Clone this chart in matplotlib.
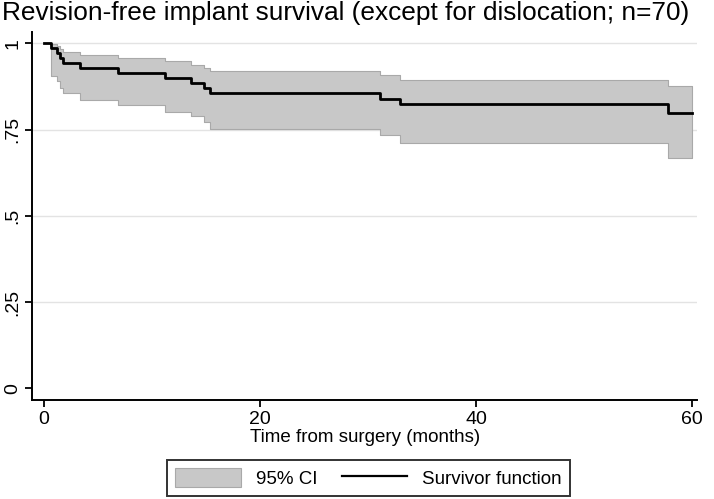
import matplotlib
matplotlib.use("Agg")
import matplotlib.pyplot as plt
from matplotlib.patches import Patch
from matplotlib.lines import Line2D

plt.rcParams['font.family'] = ['Liberation Sans', 'DejaVu Sans']

# Kaplan-Meier steps
times = [0, 0.7, 1.2, 1.5, 1.8, 3.3, 6.9, 11.2, 13.6, 14.8, 15.4, 31.1, 33.0, 57.8, 60.0]
surv = [1.0, 0.986, 0.971, 0.957, 0.943, 0.929, 0.914, 0.900, 0.886, 0.871, 0.857, 0.840, 0.825, 0.797, 0.797]
ci_upper = [1.0, 0.998, 0.992, 0.985, 0.975, 0.965, 0.957, 0.948, 0.938, 0.929, 0.920, 0.907, 0.893, 0.877, 0.877]
ci_lower = [1.0, 0.905, 0.890, 0.872, 0.855, 0.837, 0.820, 0.802, 0.788, 0.773, 0.752, 0.735, 0.712, 0.667, 0.667]

xticks = [0, 20, 40, 60]
yticks = [0, 0.25, 0.5, 0.75, 1]
ytick_labels = ["0", ".25", ".5", ".75", "1"]

fig = plt.figure(figsize=(7.14, 4.99), dpi=100)
ax = fig.add_axes([0.0452, 0.1984, 0.931, 0.7375])

for y in yticks[1:]:
    ax.axhline(y, color="#e3e3e3", lw=1, zorder=0)

ax.fill_between(times[1:], ci_lower[1:], ci_upper[1:], step="post",
                facecolor="#c8c8c8", edgecolor="#a9a9a9", lw=0.8, zorder=1)
ax.step(times, surv, where="post", color="black", lw=2.0, zorder=2)

ax.set_xlim(-1.08, 60.46)
ax.set_ylim(-0.034, 1.033)
ax.set_xticks(xticks)
ax.set_yticks(yticks)
ax.set_yticklabels(ytick_labels, rotation=90, va="center")
ax.tick_params(labelsize=14, length=5, width=1.3, color="black", pad=3)
for s in ["top", "right"]:
    ax.spines[s].set_visible(False)
for s in ["left", "bottom"]:
    ax.spines[s].set_linewidth(1.4)

ax.set_xlabel("Time from surgery (months)", fontsize=13.5, labelpad=1)
fig.text(0.003, 0.973, "Revision-free implant survival (except for dislocation; n=70)",
         fontsize=18.9, ha="left", va="center")

handles = [Patch(facecolor="#c8c8c8", edgecolor="#a9a9a9", lw=0.8),
           Line2D([0], [0], color="black", lw=1.6)]
leg = fig.legend(handles, ["95% CI", "Survivor function"], ncol=2,
                 loc="center", bbox_to_anchor=(368.5 / 714, 1 - 478 / 499),
                 fontsize=13.5, frameon=True, fancybox=False, edgecolor="black",
                 handlelength=3.5, handleheight=1.2, columnspacing=1.3,
                 borderpad=0.45)
leg.get_frame().set_linewidth(1.4)

fig.savefig("out.png", dpi=100)
